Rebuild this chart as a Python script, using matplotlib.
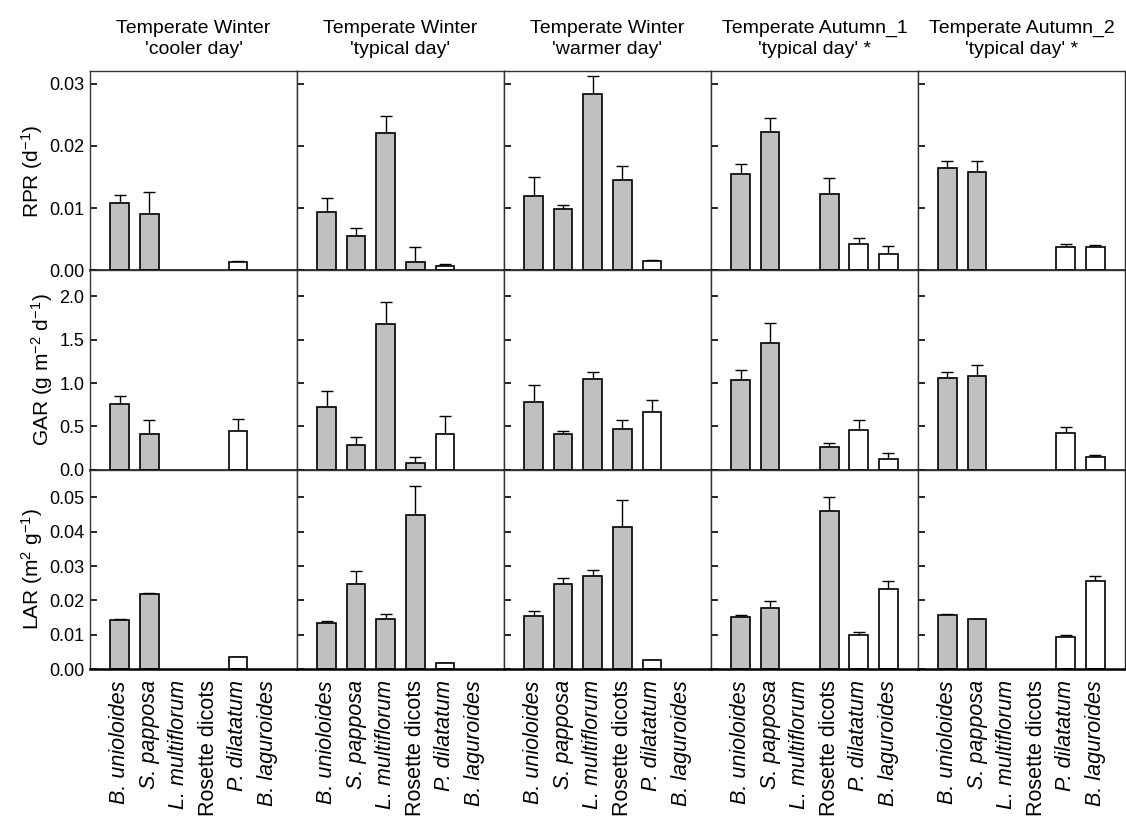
import numpy as np
import matplotlib
matplotlib.use('Agg')
import matplotlib.pyplot as plt

plt.rcParams['font.family'] = ['Liberation Sans', 'DejaVu Sans']
plt.rcParams['mathtext.fontset'] = 'custom'
plt.rcParams['mathtext.rm'] = 'Liberation Sans'
plt.rcParams['mathtext.it'] = 'Liberation Sans:italic'

nan = np.nan

species = ['B. unioloides', 'S. papposa', 'L. multiflorum', 'Rosette dicots',
           'P. dilatatum', 'B. laguroides']
italic = [True, True, True, False, True, True]
c4 = [False, False, False, False, True, True]

titles = ["Temperate Winter\n'cooler day'", "Temperate Winter\n'typical day'",
          "Temperate Winter\n'warmer day'", "Temperate Autumn_1\n'typical day' *",
          "Temperate Autumn_2\n'typical day' *"]

# relative plant growth rate, per panel (one list per condition)
rpr_mean = [[0.0108, 0.0090, nan, nan, 0.0014, nan],
            [0.0094, 0.0056, 0.0220, 0.0013, 0.0007, nan],
            [0.0119, 0.0098, 0.0284, 0.0146, 0.0015, nan],
            [0.0155, 0.0222, nan, 0.0122, 0.0042, 0.0027],
            [0.0165, 0.0158, nan, nan, 0.0038, 0.0037]]
rpr_se = [[0.0013, 0.0036, nan, nan, 0.0002, nan],
          [0.0023, 0.0012, 0.0028, 0.0025, 0.0003, nan],
          [0.0031, 0.0007, 0.0029, 0.0022, 0.0002, nan],
          [0.0016, 0.0023, nan, 0.0026, 0.0010, 0.0013],
          [0.0010, 0.0018, nan, nan, 0.0005, 0.0004]]

# green area ratio
gar_mean = [[0.755, 0.41, nan, nan, 0.45, nan],
            [0.73, 0.29, 1.68, 0.073, 0.41, nan],
            [0.78, 0.41, 1.05, 0.47, 0.67, nan],
            [1.04, 1.465, nan, 0.26, 0.46, 0.127],
            [1.055, 1.08, nan, nan, 0.42, 0.15]]
gar_se = [[0.095, 0.17, nan, nan, 0.14, nan],
          [0.175, 0.09, 0.26, 0.077, 0.21, nan],
          [0.20, 0.04, 0.08, 0.10, 0.13, nan],
          [0.11, 0.225, nan, 0.05, 0.11, 0.07],
          [0.075, 0.13, nan, nan, 0.07, 0.02]]

# leaf area ratio
lar_mean = [[0.0144, 0.0218, nan, nan, 0.0034, nan],
            [0.0134, 0.0249, 0.0147, 0.0448, 0.0018, nan],
            [0.0155, 0.0247, 0.0270, 0.0414, 0.0027, nan],
            [0.0153, 0.0179, nan, 0.0459, 0.0099, 0.0233],
            [0.0158, 0.0146, nan, nan, 0.0093, 0.0256]]
lar_se = [[0.0003, 0.0003, nan, nan, 0.0002, nan],
          [0.0006, 0.0036, 0.0014, 0.0086, 0.0001, nan],
          [0.0013, 0.0019, 0.0017, 0.0077, 0.0001, nan],
          [0.0005, 0.0018, nan, 0.0042, 0.0009, 0.0022],
          [0.0002, 0.0001, nan, nan, 0.0006, 0.0016]]

rows = [
    (rpr_mean, rpr_se, 'RPR (d$^{-1}$)', (0, 0.0320), np.arange(0, 0.031, 0.01), '%.2f'),
    (gar_mean, gar_se, 'GAR (g m$^{-2}$ d$^{-1}$)', (0, 2.30), np.arange(0, 2.01, 0.5), '%.1f'),
    (lar_mean, lar_se, 'LAR (m$^2$ g$^{-1}$)', (0, 0.058), np.arange(0, 0.051, 0.01), '%.2f'),
]

fig, axes = plt.subplots(3, 5, figsize=(11.26, 8.18), dpi=100, sharex=True)
fig.subplots_adjust(left=0.080, right=0.999, top=0.913, bottom=0.182,
                    wspace=0, hspace=0)

x = np.arange(1, 7)
for r, (means, ses, ylab, ylim, ticks, fmt) in enumerate(rows):
    for c in range(5):
        ax = axes[r, c]
        m = np.array(means[c])
        s = np.array(ses[c])
        ok = ~np.isnan(m)
        colors = ['white' if c4[i] else '#c0c0c0' for i in range(6)]
        ax.bar(x[ok], m[ok], width=0.63, color=np.array(colors)[ok],
               edgecolor='black', linewidth=1.2, zorder=2)
        ax.errorbar(x[ok], m[ok], yerr=[np.zeros(ok.sum()), s[ok]], fmt='none',
                    ecolor='black', elinewidth=1.0, capsize=4, capthick=1.0, zorder=1)
        ax.set_xlim(0, 7)
        ax.set_ylim(*ylim)
        ax.set_yticks(ticks)
        ax.tick_params(axis='y', direction='in', length=5, width=1.2,
                       labelsize=13, pad=4)
        ax.tick_params(axis='x', length=0)
        for sp in ax.spines.values():
            sp.set_linewidth(1.0)
            sp.set_color('#333333')
        ax.spines['bottom'].set_linewidth(1.8)
        ax.spines['bottom'].set_color('black')
        if c == 0:
            ax.yaxis.set_major_formatter(matplotlib.ticker.FormatStrFormatter(fmt))
            ax.set_ylabel(ylab, fontsize=15, labelpad=3)
        else:
            ax.tick_params(axis='y', labelleft=False)
        if r == 0:
            ax.set_title(titles[c], fontsize=14, pad=12, linespacing=1.35)
        if r == 2:
            ax.set_xticks(x)
            ax.set_xticklabels(species, rotation=90, fontsize=15.5, va='top')
            for lbl, it in zip(ax.get_xticklabels(), italic):
                lbl.set_fontstyle('italic' if it else 'normal')
            ax.tick_params(axis='x', pad=8)

fig.savefig('out.png', dpi=100)
